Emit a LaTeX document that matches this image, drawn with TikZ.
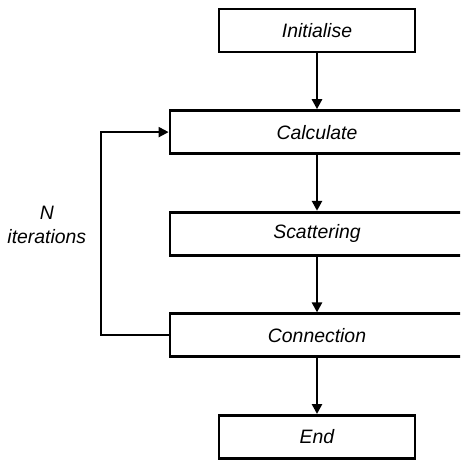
\documentclass[tikz,border=0pt]{standalone}
\usepackage{fontspec}
\setmainfont{Liberation Sans}
\usetikzlibrary{positioning,arrows.meta}

\tikzset{
  stage/.style={draw, line width=1.4pt, minimum height=21.5pt, inner sep=0pt,
    font=\fontsize{9.7}{12}\selectfont\itshape},
  narrow/.style={stage, minimum width=98pt},
  wide/.style={stage, minimum width=147pt},
  flow/.style={line width=1.4pt, -{Triangle[length=5pt,width=5pt]}},
}

\begin{document}
\begin{tikzpicture}[node distance=27.9pt]
\clip (0,0) rectangle (230pt,-232pt);
\node[narrow] (init) at (158.5pt,-15.25pt) {Initialise};
\node[wide, below=of init] (calc) {Calculate};
\node[wide, below=of calc] (scat) {Scattering};
\node[wide, below=of scat] (conn) {Connection};
\node[narrow, below=of conn] (stop) {End};

% loop back to Calculate
\path (conn.west) ++(-34pt,0) coordinate (back);
\path (back |- scat) coordinate (mid);
\node[left=7pt of mid, yshift=4.5pt, inner sep=0pt, align=center,
  font=\fontsize{9.7}{12}\selectfont\itshape] (niter) {N\\iterations};

\draw[flow] (init) -- (calc);
\draw[flow] (calc) -- (scat);
\draw[flow] (scat) -- (conn);
\draw[flow] (conn) -- (stop);
\draw[flow, line width=1pt] (conn.west) -- (back) |- (calc.west);
\end{tikzpicture}
\end{document}
